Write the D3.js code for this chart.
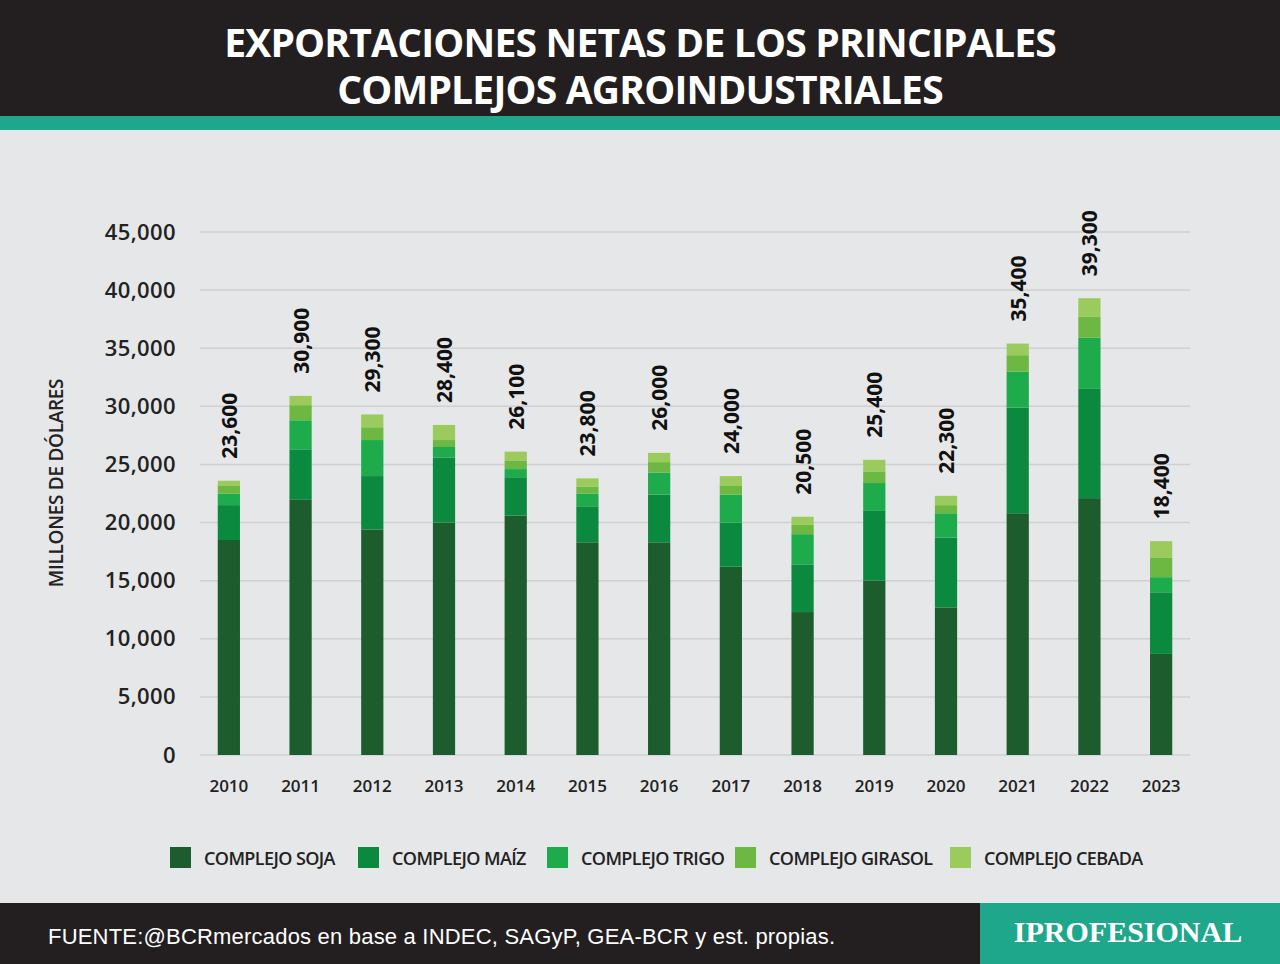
<!DOCTYPE html>
<html><head><meta charset="utf-8">
<script src="https://cdn.jsdelivr.net/npm/d3@7"></script>
<style>body{margin:0;background:#e6e7e8}svg{display:block}</style>
</head><body><svg id="chart" width="1280" height="964"></svg>
<script>
var years = ['2010','2011','2012','2013','2014','2015','2016','2017','2018','2019','2020','2021','2022','2023'];
var soja    = [18500,22000,19400,20000,20600,18300,18300,16200,12300,15000,12700,20800,22100,8700];
var maiz    = [3000,4300,4600,5600,3300,3100,4100,3800,4100,6000,6000,9100,9400,5300];
var trigo   = [1000,2500,3100,900,700,1100,1900,2400,2600,2400,2100,3100,4400,1300];
var girasol = [700,1300,1100,600,700,600,900,800,800,1000,700,1400,1800,1700];
var cebada  = [400,800,1100,1300,800,700,800,800,700,1000,800,1000,1600,1400];
var totals  = [23600,30900,29300,28400,26100,23800,26000,24000,20500,25400,22300,35400,39300,18400];
var yTicks  = [0,5000,10000,15000,20000,25000,30000,35000,40000,45000];
var seriesNames = ['COMPLEJO SOJA','COMPLEJO MAÍZ','COMPLEJO TRIGO','COMPLEJO GIRASOL','COMPLEJO CEBADA'];
var titleLines = ['EXPORTACIONES NETAS DE LOS PRINCIPALES','COMPLEJOS AGROINDUSTRIALES'];
var colors = ['#1d5c2c','#0b8a3f','#1eab4b','#6cb843','#9acb5c'];

var svg = d3.select('#chart');
var font = "'Open Sans', sans-serif";

// header
svg.append('rect').attr('width',1280).attr('height',116).attr('fill','#231f20');
svg.append('rect').attr('y',116).attr('width',1280).attr('height',14).attr('fill','#1fa78c');
svg.append('text').attr('text-anchor','middle')
  .attr('font-family',font).attr('font-weight',700).attr('font-size',39).attr('fill','#fff')
  .attr('letter-spacing',-0.8)
  .selectAll('tspan').data(titleLines).join('tspan')
  .attr('x',640).attr('y',function(d,i){return 57 + i*47;}).text(function(d){return d;});

var data = years.map(function (y, i) {
  return {year: y, s0: soja[i], s1: maiz[i], s2: trigo[i], s3: girasol[i], s4: cebada[i], total: totals[i]};
});
var stack = d3.stack().keys(['s0','s1','s2','s3','s4'])(data);

var x = d3.scaleBand().domain(years).range([193,1197]).paddingInner(0.69).paddingOuter(0.345);
var y = d3.scaleLinear().domain([0,45000]).range([755,232]);

// grid
svg.append('g').selectAll('line').data(yTicks).join('line')
  .attr('x1',200).attr('x2',1190).attr('y1',function(d){return y(d);}).attr('y2',function(d){return y(d);})
  .attr('stroke','#cfd0d2').attr('stroke-width',1.5);

var yAxis = svg.append('g').attr('transform','translate(176,0)')
  .call(d3.axisLeft(y).tickValues(yTicks).tickSize(0).tickPadding(0).tickFormat(d3.format(',')));
yAxis.select('.domain').remove();
yAxis.selectAll('text').attr('font-family',font).attr('font-weight',600).attr('font-size',22)
  .attr('letter-spacing',0.4).attr('fill','#222');

var xAxis = svg.append('g').attr('transform','translate(0,780)')
  .call(d3.axisBottom(x).tickSize(0).tickPadding(0));
xAxis.select('.domain').remove();
xAxis.selectAll('text').attr('font-family',font).attr('font-weight',600).attr('font-size',17).attr('fill','#222');

svg.append('text').attr('transform','translate(63,483) rotate(-90)').attr('text-anchor','middle')
  .attr('font-family',font).attr('font-weight',600).attr('font-size',19).attr('fill','#222')
  .attr('letter-spacing',-0.3).text('MILLONES DE DÓLARES');

svg.append('g').selectAll('g').data(stack).join('g').attr('fill',function(d,i){return colors[i];})
  .selectAll('rect').data(function(d){return d;}).join('rect')
  .attr('x',function(d){return x(d.data.year);}).attr('width',x.bandwidth())
  .attr('y',function(d){return y(d[1]);}).attr('height',function(d){return y(d[0])-y(d[1]);});

svg.append('g').selectAll('text').data(data).join('text')
  .attr('transform',function(d){return 'translate('+(x(d.year)+x.bandwidth()/2+8)+','+(y(d.total)-22)+') rotate(-90)';})
  .attr('font-family',font).attr('font-weight',700).attr('font-size',21).attr('fill','#111')
  .text(function(d){return d3.format(',')(d.total);});

// legend
var legX = [170,358,547,735,950];
var leg = svg.append('g').selectAll('g').data(seriesNames).join('g')
  .attr('transform',function(d,i){return 'translate('+legX[i]+',847)';});
leg.append('rect').attr('width',21).attr('height',21).attr('fill',function(d,i){return colors[i];});
leg.append('text').attr('x',34).attr('y',18).attr('font-family',font).attr('font-weight',600)
  .attr('font-size',18).attr('letter-spacing',-0.6).attr('fill','#222').text(function(d){return d;});

// footer
svg.append('rect').attr('y',903).attr('width',1280).attr('height',61).attr('fill','#231f20');
svg.append('rect').attr('x',980).attr('y',903).attr('width',300).attr('height',61).attr('fill','#1fa78c');
svg.append('text').attr('x',48).attr('y',944).attr('font-family',"'Liberation Sans', Arial, sans-serif")
  .attr('font-size',22).attr('letter-spacing',0.2).attr('fill','#fff').text('FUENTE:@BCRmercados en base a INDEC, SAGyP, GEA-BCR y est. propias.');
svg.append('text').attr('x',1128).attr('y',942).attr('text-anchor','middle')
  .attr('font-family',"'Liberation Serif', serif").attr('font-weight',700).attr('font-size',30).attr('fill','#fff')
  .text('IPROFESIONAL');
</script></body></html>
